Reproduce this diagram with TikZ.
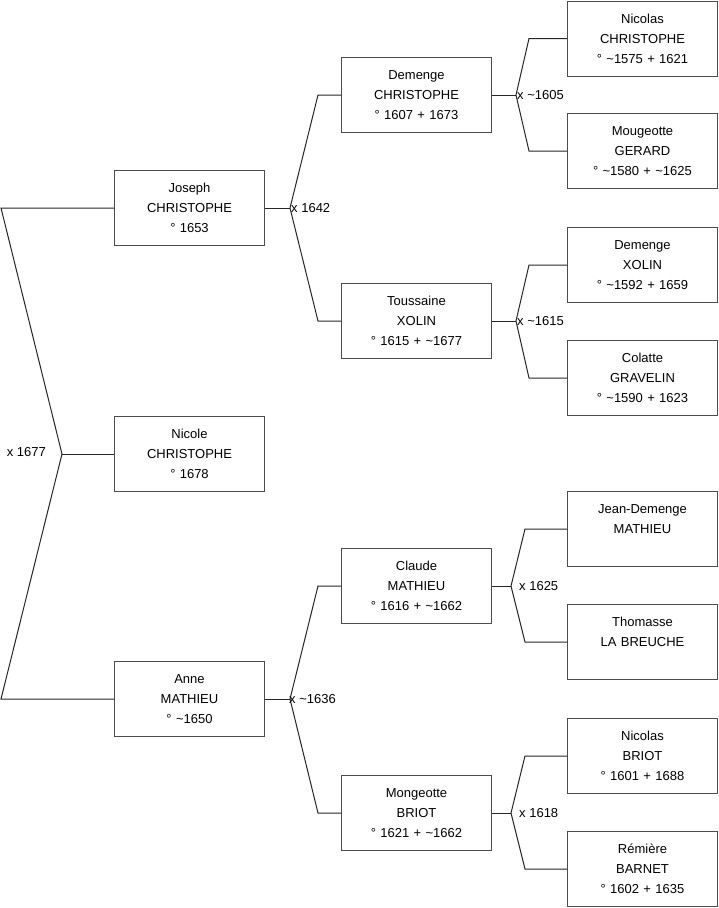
\documentclass[tikz,border=0pt]{standalone}
\usepackage{fontspec}
\setmainfont{Liberation Sans}
\usetikzlibrary{positioning}
\tikzset{
      personbox/.style={
        draw=black!70,
        line width=1pt,
        fill=white,
        minimum width=150pt,
        minimum height=75pt,
        text width=146pt,
        align=center,
        inner sep=0pt,
        font=\fontsize{13}{20}\selectfont
      },
      link/.style={draw=black!85, line width=1pt},
      wedding/.style={inner sep=1pt, font=\fontsize{13}{15}\selectfont}
    }

\begin{document}
\begin{tikzpicture}[x=1pt,y=-1pt]
    \useasboundingbox (0,0) rectangle (719,908);
    % generation 1
    \node[personbox] (joseph) at (189.5,208) {Joseph\\CHRISTOPHE\\° 1653};
    \node[personbox] (nicole) at (189.5,454) {Nicole\\CHRISTOPHE\\° 1678};
    \node[personbox] (anne) at (189.5,699) {Anne\\MATHIEU\\° {\char`~}1650};
    % generation 2
    \node[personbox] (demenge) at (416.5,95) {Demenge\\CHRISTOPHE\\° 1607 + 1673};
    \node[personbox] (toussaine) at (416.5,321) {Toussaine\\XOLIN\\° 1615 + {\char`~}1677};
    \node[personbox] (claude) at (416.5,586) {Claude\\MATHIEU\\° 1616 + {\char`~}1662};
    \node[personbox] (mongeotte) at (416.5,813) {Mongeotte\\BRIOT\\° 1621 + {\char`~}1662};
    % generation 3
    \node[personbox] (nicolasc) at (642.5,38.5) {Nicolas\\CHRISTOPHE\\° {\char`~}1575 + 1621};
    \node[personbox] (mougeotte) at (642.5,151) {Mougeotte\\GERARD\\° {\char`~}1580 + {\char`~}1625};
    \node[personbox] (demengex) at (642.5,265) {Demenge\\XOLIN\\° {\char`~}1592 + 1659};
    \node[personbox] (colatte) at (642.5,378) {Colatte\\GRAVELIN\\° {\char`~}1590 + 1623};
    \node[personbox] (jeandemenge) at (642.5,529) {Jean-Demenge\\MATHIEU\\\mbox{}};
    \node[personbox] (thomasse) at (642.5,642) {Thomasse\\LA BREUCHE\\\mbox{}};
    \node[personbox] (nicolasb) at (642.5,756) {Nicolas\\BRIOT\\° 1601 + 1688};
    \node[personbox] (remiere) at (642.5,869) {Rémière\\BARNET\\° 1602 + 1635};

    % couple junctions
    \coordinate (c0) at (62,454);
    \coordinate (c0a) at (1,208);
    \coordinate (c0b) at (1,699);
    \coordinate (c1) at (290,208);
    \coordinate (c2) at (290,699);
    \coordinate (c3) at (516,95);
    \coordinate (c4) at (516,321);
    \coordinate (c5) at (511,586);
    \coordinate (c6) at (511,813);

    \draw[link] (joseph.west) -- (c0a) -- (c0) -- (c0b) -- (anne.west);
    \draw[link] (c0) -- (nicole.west);
    \node[wedding, anchor=east] (w0) at (47,452) {x 1677};

    \draw[link] (joseph.east) -- (c1);
    \draw[link] (demenge.west) -- ++(-23,0) -- (c1) -- ([xshift=-23pt]toussaine.west) -- (toussaine.west);
    \node[wedding, anchor=west] (w1) at (c1) {x 1642};

    \draw[link] (anne.east) -- (c2);
    \draw[link] (claude.west) -- ++(-23,0) -- (c2) -- ([xshift=-23pt]mongeotte.west) -- (mongeotte.west);
    \node[wedding, anchor=west] (w2) at ([xshift=-2pt]c2) {x {\char`~}1636};

    \draw[link] (demenge.east) -- (c3);
    \draw[link] (nicolasc.west) -- ++(-38,0) -- (c3) -- ([xshift=-38pt]mougeotte.west) -- (mougeotte.west);
    \node[wedding, anchor=west] (w3) at (c3) {x {\char`~}1605};

    \draw[link] (toussaine.east) -- (c4);
    \draw[link] (demengex.west) -- ++(-38,0) -- (c4) -- ([xshift=-38pt]colatte.west) -- (colatte.west);
    \node[wedding, anchor=west] (w4) at (c4) {x {\char`~}1615};

    \draw[link] (claude.east) -- (c5);
    \draw[link] (jeandemenge.west) -- ++(-42,0) -- (c5) -- ([xshift=-42pt]thomasse.west) -- (thomasse.west);
    \node[wedding, anchor=west] (w5) at ([xshift=7pt]c5) {x 1625};

    \draw[link] (mongeotte.east) -- (c6);
    \draw[link] (nicolasb.west) -- ++(-42,0) -- (c6) -- ([xshift=-42pt]remiere.west) -- (remiere.west);
    \node[wedding, anchor=west] (w6) at ([xshift=7pt]c6) {x 1618};
    \end{tikzpicture}
\end{document}
